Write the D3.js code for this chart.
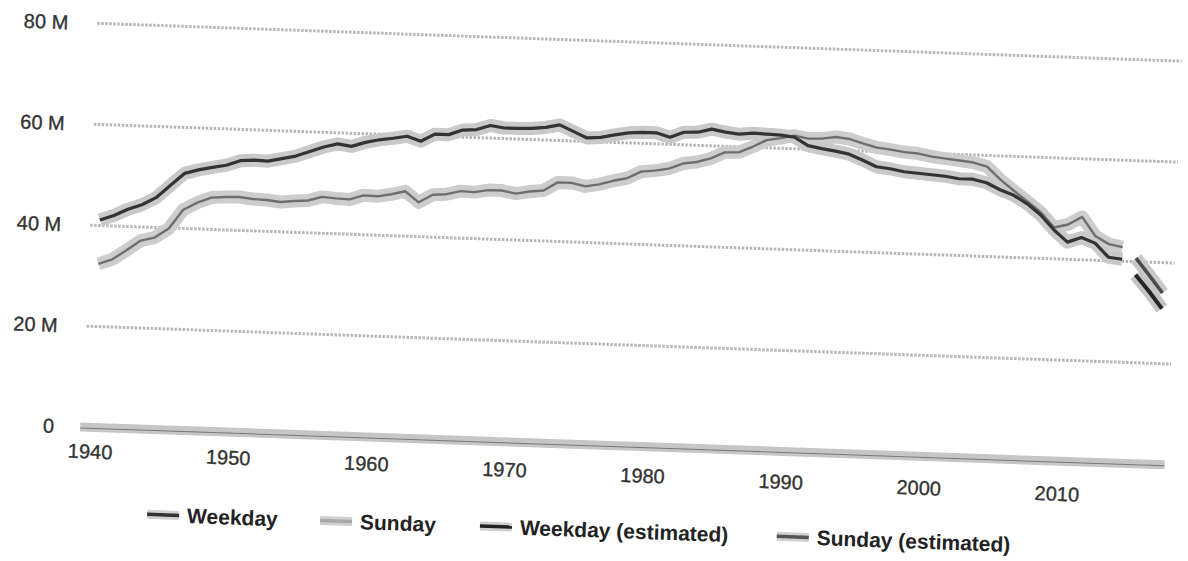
<!DOCTYPE html>
<html>
<head>
<meta charset="utf-8">
<script src="https://cdn.jsdelivr.net/npm/d3@7"></script>
<style>
  html, body { margin: 0; padding: 0; background: #fff; }
  svg { display: block; font-family: "Liberation Sans", Arial, sans-serif; }
</style>
</head>
<body>
<div id="chart"></div>
<script>
const width = 1188;
const height = 561;

// circulation, millions
const years = [1940, 1941, 1942, 1943, 1944, 1945, 1946, 1947, 1948, 1949,
    1950, 1951, 1952, 1953, 1954, 1955, 1956, 1957, 1958, 1959,
    1960, 1961, 1962, 1963, 1964, 1965, 1966, 1967, 1968, 1969,
    1970, 1971, 1972, 1973, 1974, 1975, 1976, 1977, 1978, 1979,
    1980, 1981, 1982, 1983, 1984, 1985, 1986, 1987, 1988, 1989,
    1990, 1991, 1992, 1993, 1994, 1995, 1996, 1997, 1998, 1999,
    2000, 2001, 2002, 2003, 2004, 2005, 2006, 2007, 2008, 2009,
    2010, 2011, 2012, 2013, 2014];

const weekday = [41.1, 42.1, 43.4, 44.4, 45.9, 48.4, 50.9, 51.7, 52.3, 52.8,
    53.8, 54.0, 53.9, 54.5, 55.1, 56.1, 57.1, 57.8, 57.4, 58.3,
    58.9, 59.3, 59.8, 58.9, 60.4, 60.4, 61.4, 61.6, 62.5, 62.1,
    62.1, 62.2, 62.5, 63.1, 61.9, 60.7, 60.9, 61.5, 62.0, 62.2,
    62.2, 61.4, 62.5, 62.6, 63.3, 62.8, 62.5, 62.8, 62.7, 62.6,
    62.3, 60.7, 60.2, 59.8, 59.3, 58.2, 57.0, 56.7, 56.2, 56.0,
    55.8, 55.6, 55.2, 55.2, 54.6, 53.3, 52.3, 50.7, 48.6, 45.7,
    43.4, 44.4, 43.4, 40.7, 40.4];

const sunday = [32.4, 33.4, 35.3, 37.3, 38.0, 39.9, 43.7, 45.2, 46.3, 46.5,
    46.6, 46.3, 46.2, 45.9, 46.2, 46.4, 47.2, 47.0, 46.9, 47.8,
    47.7, 48.2, 48.9, 46.8, 48.4, 48.6, 49.3, 49.2, 49.7, 49.7,
    49.2, 49.7, 50.0, 51.7, 51.7, 51.1, 51.6, 52.4, 53.0, 54.4,
    54.7, 55.2, 56.3, 56.7, 57.5, 58.8, 58.9, 60.1, 61.5, 62.0,
    62.6, 62.1, 62.2, 62.6, 62.3, 61.5, 60.8, 60.5, 60.1, 59.9,
    59.4, 59.1, 58.8, 58.5, 57.8, 55.3, 53.2, 51.2, 49.1, 46.2,
    46.9, 48.5, 44.8, 43.3, 42.8];

const estYears = [2015, 2016, 2017];
const weekdayEst = [37.4, 34.3, 30.9];
const sundayEst = [40.7, 37.4, 34.0];

const xTicks = [1940, 1950, 1960, 1970, 1980, 1990, 2000, 2010];
const yTicks = [0, 20, 40, 60, 80];

const legendLabels = ["Weekday", "Sunday", "Weekday (estimated)", "Sunday (estimated)"];

// the scanned page is tilted a little, so the whole chart is drawn tilted
const tilt = 2.0;

const svg = d3.select("#chart")
    .append("svg")
    .attr("width", width)
    .attr("height", height);

const root = svg.append("g")
    .attr("transform", `rotate(${tilt}, 600, 240)`);

const x = d3.scaleLinear().domain([1940, 2017]).range([99.5, 1164]);
const y = d3.scaleLinear().domain([0, 80]).range([445, 41]);

const gridLeft = 90, gridRight = 1175;

// grid
root.append("g")
    .selectAll("line")
    .data(yTicks.filter(d => d > 0))
    .enter()
    .append("line")
    .attr("x1", gridLeft)
    .attr("x2", gridRight)
    .attr("y1", d => y(d))
    .attr("y2", d => y(d))
    .attr("stroke", "#b6b6b6")
    .attr("stroke-width", 3)
    .attr("stroke-dasharray", "2.5,1.5");

// zero line
root.append("line")
    .attr("x1", 87).attr("x2", 1172)
    .attr("y1", y(0)).attr("y2", y(0))
    .attr("stroke", "#c6c6c6")
    .attr("stroke-width", 9);
root.append("line")
    .attr("x1", 87).attr("x2", 1172)
    .attr("y1", y(0) + 1).attr("y2", y(0) + 1)
    .attr("stroke", "#777")
    .attr("stroke-width", 1);

// axes
const yAxis = root.append("g")
    .attr("transform", "translate(61,0)")
    .call(d3.axisLeft(y).tickValues(yTicks).tickSize(0).tickPadding(0)
        .tickFormat(d => d === 0 ? "0" : d + " M"));
yAxis.select(".domain").remove();
yAxis.selectAll("text")
    .attr("font-size", 20)
    .attr("font-family", "Liberation Sans, Arial, sans-serif")
    .attr("fill", "#333")
    .attr("stroke", "#333")
    .attr("stroke-width", 0.35);

// the label row of the scan sags a bit more than the plot
const xAxis = root.append("g")
    .attr("transform", `rotate(0.5, 100, ${y(0)}) translate(-2,${y(0) + 17})`)
    .call(d3.axisBottom(x).tickValues(xTicks).tickSize(0).tickPadding(0)
        .tickFormat(d3.format("d")));
xAxis.select(".domain").remove();
xAxis.selectAll("text")
    .attr("font-size", 20)
    .attr("font-family", "Liberation Sans, Arial, sans-serif")
    .attr("fill", "#333")
    .attr("stroke", "#333")
    .attr("stroke-width", 0.35);

// series
const series = [
    { xs: years, ys: sunday, color: "#6e6e6e", w: 2.4, halo: "#cdcdcd" },
    { xs: years, ys: weekday, color: "#333", w: 3.2, halo: "#c9c9c9" },
    { xs: estYears, ys: sundayEst, color: "#4a4a4a", w: 3.5, halo: "#c9c9c9" },
    { xs: estYears, ys: weekdayEst, color: "#262626", w: 4, halo: "#c4c4c4" }
];

const line = d3.line()
    .x(d => x(d[0]))
    .y(d => y(d[1]));

series.forEach(s => {
    const pts = s.xs.map((yr, i) => [yr, s.ys[i]]);
    root.append("path")
        .datum(pts)
        .attr("d", line)
        .attr("fill", "none")
        .attr("stroke", s.halo)
        .attr("stroke-width", 13)
        .attr("stroke-linejoin", "round");
});
series.forEach(s => {
    const pts = s.xs.map((yr, i) => [yr, s.ys[i]]);
    root.append("path")
        .datum(pts)
        .attr("d", line)
        .attr("fill", "none")
        .attr("stroke", s.color)
        .attr("stroke-width", s.w)
        .attr("stroke-linejoin", "round");
});

// legend
const swatchColors = ["#333", "#a8a8a8", "#222", "#555"];
const legendX = [157, 330, 490, 787];
const legend = root.append("g").attr("transform", "translate(0,530)");
legendLabels.forEach((label, i) => {
    const item = legend.append("g").attr("transform", `translate(${legendX[i]},0)`);
    item.append("line")
        .attr("x1", 0).attr("x2", 32)
        .attr("stroke", "#d0d0d0").attr("stroke-width", 9);
    item.append("line")
        .attr("x1", 0).attr("x2", 32)
        .attr("stroke", swatchColors[i]).attr("stroke-width", 3.5);
    item.append("text")
        .attr("x", 40)
        .attr("dy", "0.35em")
        .attr("font-size", 21)
        .attr("font-weight", "bold")
        .attr("fill", "#222")
        .text(label);
});
</script>
</body>
</html>
